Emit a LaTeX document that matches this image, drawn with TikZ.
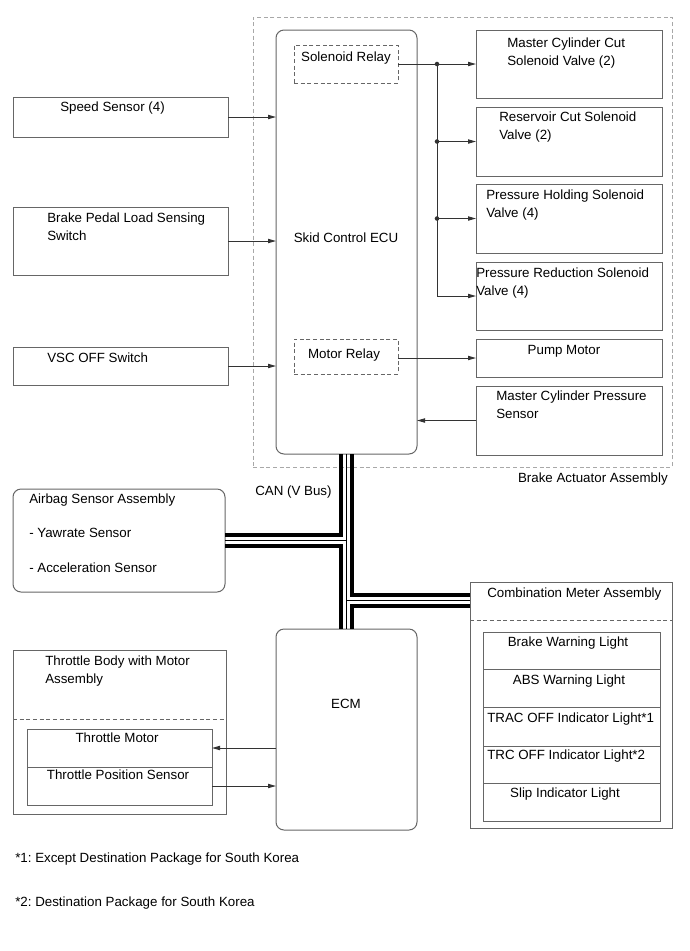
\documentclass[tikz,border=0pt]{standalone}
\usepackage{fontspec}
\setmainfont{Liberation Sans}
\usetikzlibrary{arrows.meta,fit,calc}
\definecolor{boxc}{HTML}{666666}
\definecolor{dashc}{HTML}{A8A8A8}
\definecolor{linec}{HTML}{333333}
\frenchspacing
\begin{document}
\begin{tikzpicture}[x=0.75pt,y=-0.75pt,
  box/.style={draw=boxc, line width=0.75pt, inner sep=0pt, outer sep=0pt},
  rbox/.style={box, rounded corners=6pt},
  dbox/.style={box, dash pattern=on 3pt off 2pt},
  sep/.style={draw=boxc, line width=0.75pt, dash pattern=on 3pt off 2pt},
  lbl/.style={font=\fontsize{10}{13.5}\selectfont, inner sep=0pt, anchor=base west, align=left, text=black},
  clbl/.style={lbl, anchor=base, align=center},
  arr/.style={draw=linec, line width=0.75pt, -{Triangle[length=6pt,width=3.2pt]}},
  conn/.style={draw=linec, line width=0.75pt},
  canw/.style={draw=black, line width=3pt, line join=miter},
  cant/.style={draw=black, line width=0.8pt}]
\useasboundingbox[fill=white] (0,0) rectangle (690,951);

% boxes
\node[dbox, draw=dashc, fit={(253,17) (672,467)}] (ba) {};
\node[rbox, fit={(276,30) (417,454)}] (ecu) {};
\node[dbox, fit={(294,45) (398,83)}] (srelay) {};
\node[dbox, fit={(294,339) (398,374)}] (mrelay) {};
\node[box, fit={(476,30) (662,98)}] (mcc) {};
\node[box, fit={(476,107) (662,176)}] (res) {};
\node[box, fit={(476,184) (662,253)}] (hold) {};
\node[box, fit={(476,262) (662,330)}] (red) {};
\node[box, fit={(476,339) (662,377)}] (pump) {};
\node[box, fit={(476,386) (662,455)}] (mcps) {};
\node[box, fit={(13,97) (228,137)}] (spd) {};
\node[box, fit={(13,207) (228,275)}] (bpl) {};
\node[box, fit={(13,347) (228,385)}] (vsc) {};
\node[rbox, fit={(13,489) (225,592)}] (ab) {};
\node[box, fit={(470,582) (672,828)}] (cm) {};
\node[box, fit={(483,632) (660,669)}] (r1) {};
\node[box, fit={(483,669) (660,707)}] (r2) {};
\node[box, fit={(483,707) (660,746)}] (r3) {};
\node[box, fit={(483,746) (660,783)}] (r4) {};
\node[box, fit={(483,783) (660,821)}] (r5) {};
\node[rbox, fit={(276,629) (417,830)}] (ecm) {};
\node[box, fit={(13,650) (226,814)}] (tb) {};
\node[box, fit={(27,729) (212,767)}] (tm) {};
\node[box, fit={(27,767) (212,805)}] (tps) {};

% dashed separators
\coordinate (tbsep) at (0,719);
\coordinate (cmsep) at (0,620);
\draw[sep] (tb.west |- tbsep) -- (tb.east |- tbsep);
\draw[sep] (cm.west |- cmsep) -- (cm.east |- cmsep);

% texts (multi-line nodes: base = last line)
\node[clbl] (tsr) at (346,61.5) {Solenoid Relay};
\node[clbl] (tmr) at (344,358.5) {Motor Relay};
\node[clbl] (tecu) at (346,242.5) {Skid Control ECU};
\node[lbl] (tmcc) at (507,65.5) {Master Cylinder Cut\\Solenoid Valve (2)};
\node[lbl] (tres) at (499,139.5) {Reservoir Cut Solenoid\\Valve (2)};
\node[lbl] (thold) at (486,217.5) {Pressure Holding Solenoid\\Valve (4)};
\node[lbl] (tred) at (476,295.5) {Pressure Reduction Solenoid\\Valve (4)};
\node[clbl] (tpump) at (564,354.5) {Pump Motor};
\node[lbl] (tmcps) at (496,418.5) {Master Cylinder Pressure\\Sensor};
\node[lbl, anchor=base east] (tba) at (668,482.5) {Brake Actuator Assembly};
\node[lbl] (tspd) at (60,111.5) {Speed Sensor (4)};
\node[lbl] (tbpl) at (47,240.5) {Brake Pedal Load Sensing\\Switch};
\node[lbl] (tvsc) at (47,362.5) {VSC OFF Switch};
\node[lbl] (tcan) at (255,495.5) {CAN (V Bus)};
\node[lbl] (tab1) at (29,503.5) {Airbag Sensor Assembly};
\node[lbl] (tab2) at (29,537.5) {- Yawrate Sensor};
\node[lbl] (tab3) at (29,572.5) {- Acceleration Sensor};
\node[lbl] (tcm) at (487,597.5) {Combination Meter Assembly};
\node[clbl] (tr1) at (568,646.5) {Brake Warning Light};
\node[clbl] (tr2) at (569,684.5) {ABS Warning Light};
\node[lbl] (tr3) at (487,722.5) {TRAC OFF Indicator Light*1};
\node[lbl] (tr4) at (487,759.5) {TRC OFF Indicator Light*2};
\node[clbl] (tr5) at (565,797.5) {Slip Indicator Light};
\node[clbl] (tecm) at (346,708.5) {ECM};
\node[lbl] (ttb) at (45,683.5) {Throttle Body with Motor\\Assembly};
\node[clbl] (ttm) at (117,742.5) {Throttle Motor};
\node[clbl] (ttps) at (118,779.5) {Throttle Position Sensor};
\node[lbl] (fn1) at (15,862.5) {*1: Except Destination Package for South Korea};
\node[lbl] (fn2) at (15,906.5) {*2: Destination Package for South Korea};

% inputs to ECU
\draw[arr] (spd.east) -- (spd.east -| ecu.west);
\draw[arr] (bpl.east) -- (bpl.east -| ecu.west);
\draw[arr] (vsc.east) -- (vsc.east -| ecu.west);
\draw[arr] (mcps.west) -- (mcps.west -| ecu.east);
\draw[arr] (pump.west -| mrelay.east) -- (pump.west);

% solenoid relay distribution
\coordinate (jx) at (437,0);
\draw[arr] (mcc.west -| srelay.east) -- (mcc.west);
\draw[conn] (jx |- mcc.west) -- (jx |- red.west);
\draw[arr] (jx |- res.west) -- (res.west);
\draw[arr] (jx |- hold.west) -- (hold.west);
\draw[arr] (jx |- red.west) -- (red.west);
\fill[linec] (jx |- mcc.west) circle[radius=1.7pt];
\fill[linec] (jx |- res.west) circle[radius=1.7pt];
\fill[linec] (jx |- hold.west) circle[radius=1.7pt];

% throttle
\draw[arr] (tm.east -| ecm.west) -- (tm.east);
\draw[arr] (tps.east) -- (tps.east -| ecm.west);

% CAN bus
\coordinate (cmy) at (0,600.7);
\draw[canw] ($(ecu.south)+(-5.5,0)$) |- ($(ab.east)+(0,-5.6)$);
\draw[canw] ($(ab.east)+(0,5.8)$) -| ($(ecm.north)+(-5.5,0)$);
\draw[canw] ($(ecu.south)+(5.5,0)$) |- ($(cm.west |- cmy)+(0,-5.4)$);
\draw[canw] ($(cm.west |- cmy)+(0,5.4)$) -| ($(ecm.north)+(5.5,0)$);
\draw[cant] (ecu.south) -- (ecm.north);
\draw[cant] (ab.east) -- (ab.east -| ecu.south);
\draw[cant] (cm.west |- cmy) -- (cmy -| ecu.south);
\end{tikzpicture}
\end{document}
